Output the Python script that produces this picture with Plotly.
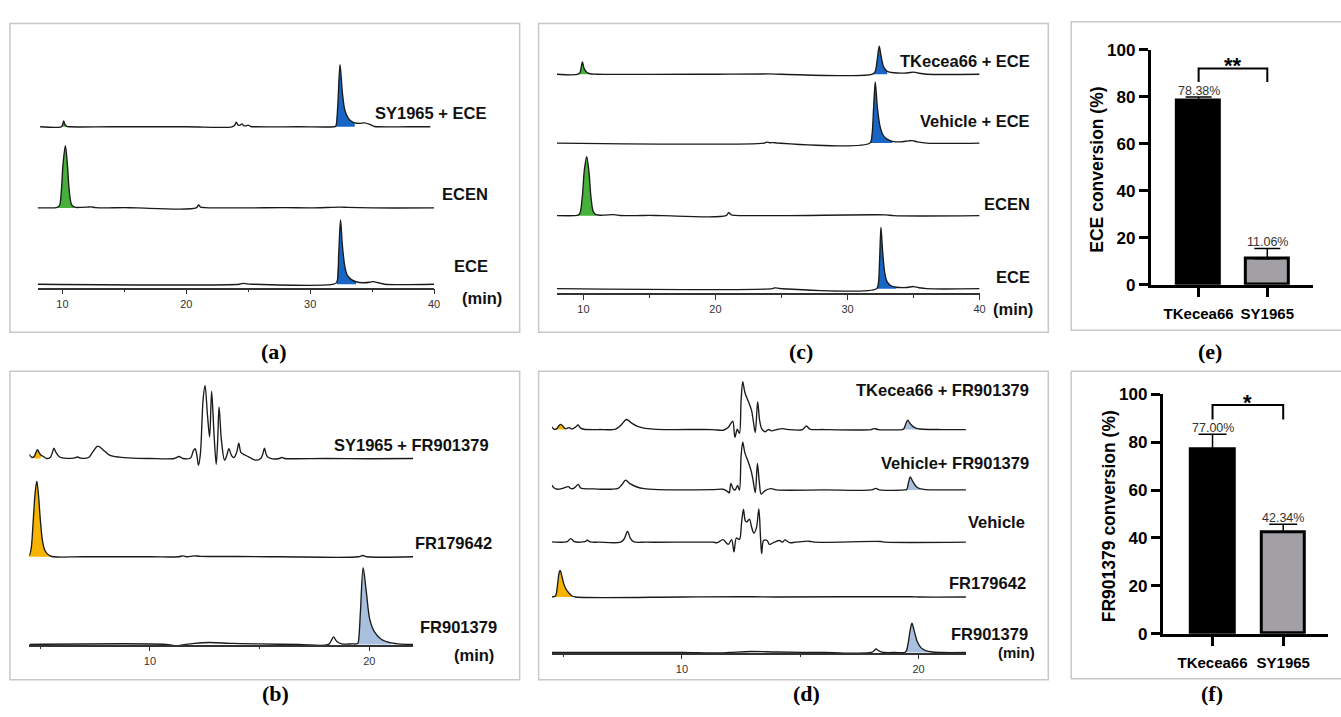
import plotly.graph_objects as go

W, H = 1341, 717

# ---------------- colours ----------------
GREEN = "#46b03a"
BLUE = "#1766c6"
YELLOW = "#f6b400"
LBLUE = "#a8c0de"
LINE = "#1a1a1a"
AX = "#333333"

# ---------------- data: chromatograms (time [min], intensity [a.u.]) ----------------
# panel (a)
a_names = ["SY1965 + ECE", "ECEN", "ECE"]
a1 = [(8.2, 0), (9.9, 0), (10.0, 1.5), (10.1, 6), (10.2, 2.5), (10.35, 0.5), (10.6, 0), (14, 0), (20, 0),
      (23.7, 0), (23.9, 1.5), (24.03, 4.7), (24.2, 1.5), (24.35, 1.8), (24.5, 3), (24.65, 1), (24.8, 1),
      (24.99, 1.7), (25.2, 0.3), (25.6, 0), (29, 0), (31.9, 0), (32.06, 0.5), (32.22, 20), (32.41, 63.7),
      (32.6, 35), (32.8, 17), (33.07, 9), (33.35, 5.5), (33.6, 4), (34.0, 3.5), (34.4, 4), (34.8, 2.5),
      (35.2, 0.3), (35.5, 0), (38, 0), (39.7, 0)]
a2 = [(8, 0), (9.0, 0), (9.5, 0.3), (9.75, 2), (9.9, 15), (10.05, 45), (10.24, 64), (10.4, 45), (10.55, 18),
      (10.75, 3), (11.0, 0.7), (11.5, 0.5), (12.0, 0.8), (12.3, 1), (12.7, 0.3), (13.5, 0), (15, 0.3), (16, 0),
      (20.8, 0), (21.0, 3), (21.15, 0.8), (21.5, 0.3), (25, 0), (28, 0.3), (30, 0), (32.5, 0.8), (33, 0.5),
      (35, 0), (40, 0)]
a3 = [(8, 0), (24.3, 0), (24.6, 0.8), (24.9, 0.3), (25.3, 0), (31.9, 0), (32.15, 2), (32.3, 30), (32.45, 66),
      (32.6, 40), (32.8, 18), (33.0, 9), (33.3, 5), (33.7, 2.5), (34.3, 1.5), (34.8, 2), (35.1, 2.7),
      (35.5, 1.5), (36, 0), (40, 0)]
a_fills = [[(9.9, 10.6, GREEN), (32.06, 33.6, BLUE)], [(9.5, 11.0, GREEN)], [(32.15, 33.7, BLUE)]]

# panel (b)
b_names = ["SY1965 + FR901379", "FR179642", "FR901379"]
b1 = [(4.49, 4.3), (4.62, 1), (4.72, 2), (4.8, 6), (4.87, 9), (4.95, 6), (5.02, 3.5), (5.12, 2.3), (5.28, 0),
      (5.45, 1), (5.55, 6), (5.62, 10.7), (5.72, 6), (5.88, 1.5), (6.1, 0.3), (6.5, 0.3), (6.7, 1.5),
      (6.85, 0.3), (7.2, 1), (7.4, 7), (7.62, 12.7), (7.85, 9), (8.15, 3.5), (8.6, 1.3), (9.2, 0.3), (10.0, 0),
      (11.1, 0), (11.33, 2), (11.5, 0), (11.85, 0.5), (11.98, 8), (12.06, 10), (12.14, 3), (12.21, -7),
      (12.3, 5), (12.42, 60), (12.51, 75), (12.62, 45), (12.72, 22), (12.81, 69), (12.92, 25), (13.02, -6),
      (13.09, 20), (13.15, 53), (13.26, 18), (13.4, -1.7), (13.5, 3), (13.6, 10), (13.72, 3), (13.83, 1),
      (13.95, 6), (14.05, 15.7), (14.15, 6), (14.35, 3.3), (14.55, 1), (14.8, -1.7), (15.05, 0), (15.15, 5),
      (15.22, 10.7), (15.32, 3), (15.5, 0), (15.9, 0), (16.0, 1), (16.15, 0), (18, 0), (20, -0.3), (22, 0)]
b2 = [(4.49, 0.5), (4.58, 8), (4.67, 35), (4.76, 65), (4.84, 77.7), (4.92, 62), (5.0, 38), (5.1, 16), (5.2, 7),
      (5.32, 3), (5.45, 1), (5.6, 0), (7, 0), (10, 0), (11.3, 0), (11.5, 1), (11.7, 0), (12, 1), (12.3, 0.5),
      (14, 0.3), (16, 0), (19.5, 0), (19.7, 1.3), (19.9, 0), (22, 0)]
b3 = [(4.49, 0), (10.73, 0), (11.19, -1.5), (11.64, 0), (12.02, 1), (12.7, 2), (13.76, 1), (14.97, 0.5),
      (16.78, 0), (18.14, 0), (18.29, 5), (18.37, 7.7), (18.52, 3), (18.75, 0.5), (19.2, 0.5), (19.47, 1),
      (19.52, 6), (19.6, 35), (19.72, 78.7), (19.86, 55), (20.03, 25), (20.26, 12), (20.56, 5), (21.0, 1.5),
      (21.47, 0.3), (22, 0)]
b_fills = [[(4.72, 5.02, YELLOW)], [(4.49, 5.6, YELLOW)], [(19.47, 21.0, LBLUE)]]

# panel (c)
c_names = ["TKecea66 + ECE", "Vehicle + ECE", "ECEN", "ECE"]
c1 = [(8, 0), (9.6, 0), (9.75, 2), (9.92, 12.7), (10.05, 6), (10.25, 2), (10.5, 0.5), (11, 0), (20, 0),
      (24, 0.3), (25, 0), (31.9, 0), (32.1, 3), (32.25, 15), (32.4, 28.7), (32.55, 18), (32.75, 7), (33, 3),
      (33.5, 1.5), (34.5, 1.3), (35, 2.2), (35.4, 1), (36, 0), (40, 0)]
c2 = [(8, 0), (23.7, 0), (23.9, 1), (24.1, 0.3), (24.4, 0.5), (24.7, 0), (31.7, 0), (31.85, 8), (31.97, 35),
      (32.1, 62.7), (32.25, 38), (32.45, 18), (32.7, 8), (33.0, 4), (33.4, 1.8), (34.0, 1.2), (34.6, 2.2),
      (34.9, 2.5), (35.3, 1.2), (36, 0), (40, 0)]
c3 = [(8, 0), (9.3, 0), (9.6, 0.5), (9.75, 3), (9.92, 20), (10.08, 48), (10.25, 60.7), (10.42, 45), (10.58, 18),
      (10.75, 4), (10.95, 1), (11.5, 0.5), (12.3, 1), (12.8, 0.2), (14, 0), (15, 0.3), (16, 0), (20.8, 0),
      (21.0, 3), (21.2, 0.8), (21.5, 0.3), (25, 0), (32.9, 0.8), (33.5, 0), (40, 0)]
c4 = [(8, 0), (24.3, 0), (24.5, 0.8), (24.8, 0.3), (25, 0), (32.2, 0), (32.33, 5), (32.43, 30), (32.53, 63),
      (32.65, 40), (32.82, 16), (33.0, 7), (33.3, 3), (33.7, 1.5), (34.5, 1.2), (35.0, 2.2), (35.4, 1), (36, 0),
      (40, 0)]
c_fills = [[(9.6, 10.5, GREEN), (31.9, 33.0, BLUE)], [(31.7, 33.4, BLUE)], [(9.6, 10.95, GREEN)],
           [(32.2, 33.7, BLUE)]]

# panel (d)
d_names = ["TKecea66 + FR901379", "Vehicle+ FR901379", "Vehicle", "FR179642", "FR901379"]
d1 = [(4.5, 2.7), (4.6, 0.3), (4.71, 1), (4.8, 4), (4.88, 5.3), (4.97, 3.5), (5.06, 1), (5.16, 1.5), (5.23, 2),
      (5.35, 0.5), (5.5, 2.5), (5.61, 4.7), (5.72, 1.5), (5.86, 0.3), (6.5, 0), (7.2, 0.5), (7.4, 4),
      (7.66, 10.3), (7.85, 7), (8.1, 3.5), (8.39, 1.5), (8.8, 0.5), (9.5, 0), (11.3, 0), (11.75, -0.7),
      (11.95, 2), (12.06, 6), (12.15, 8.7), (12.24, -8), (12.34, 0.3), (12.43, -4), (12.5, 30), (12.57, 49.3),
      (12.66, 38), (12.81, 28.7), (12.94, 20), (13.02, 8), (13.1, -3), (13.2, 28.7), (13.28, 10), (13.37, 1),
      (13.51, -2.3), (13.65, 0), (13.79, -1.3), (14.0, 0), (14.25, 1), (14.5, 0), (15.1, 0), (15.26, 3.7),
      (15.4, 0.5), (16, 0), (18, 0), (18.13, 1), (18.3, 0), (19.3, 0), (19.37, 0.5), (19.45, 5), (19.54, 9.7),
      (19.65, 6), (19.8, 2.5), (19.95, 1), (20.2, 0.3), (21, 0), (22.02, 0)]
d2 = [(4.5, 5), (4.6, 2), (4.75, 0.7), (4.95, 1.5), (5.2, 3.3), (5.3, 1.5), (5.4, 1.3), (5.5, 3), (5.61, 5.7),
      (5.72, 2), (5.86, 1.3), (6.3, 1), (6.6, 0.7), (7.0, 0.7), (7.3, 1.5), (7.45, 5), (7.62, 10), (7.8, 6.5),
      (8.1, 3), (8.4, 1.3), (9, 0.3), (10, 0), (11.3, 0.3), (11.74, 0.7), (11.95, -2), (12.0, -3.3),
      (12.07, 6.7), (12.17, 1), (12.25, 0), (12.35, 4.7), (12.43, -0.3), (12.5, 35), (12.57, 49), (12.66, 38),
      (12.8, 29), (12.92, 20), (13.0, 10.7), (13.1, -2.7), (13.19, 27.3), (13.27, 8), (13.35, -4.3),
      (13.5, -1), (13.75, 1.3), (14.0, 0), (16, 0), (18, 0), (18.2, 1.5), (18.35, 0), (19.4, 0), (19.5, 0.5),
      (19.58, 8), (19.65, 13.3), (19.75, 9), (19.9, 3.5), (20.05, 1.3), (20.3, 0.3), (21, 0), (22.02, 0)]
d3 = [(4.5, 0.3), (5.0, 0), (5.15, 0.5), (5.3, 3.7), (5.45, 0.5), (5.7, 0), (5.9, 0.5), (6.0, 2), (6.12, 0.3),
      (6.5, 0), (7.4, 0), (7.55, 3), (7.7, 11), (7.82, 4), (7.95, 0.5), (8.5, 0), (11.3, 0), (11.5, -0.5),
      (11.74, 2.7), (11.85, 0), (11.96, -2.3), (12.1, 2.7), (12.2, -10), (12.3, 4.3), (12.43, 2.7), (12.52, 20),
      (12.6, 33.7), (12.68, 22), (12.75, 21), (12.85, 23.7), (12.95, 15), (13.04, 9.3), (13.15, 15),
      (13.25, 34.3), (13.32, 5), (13.37, -11.7), (13.45, 1.7), (13.6, 1.7), (13.7, -2.3), (13.9, 0),
      (14.13, 1.7), (14.25, 0), (14.35, 2.3), (14.55, -0.5), (14.8, 0), (15.37, 1), (15.6, 0), (18.4, 0.7),
      (18.6, 0), (22.02, 0)]
d4 = [(4.5, 0), (4.65, 1), (4.74, 12), (4.8, 24), (4.85, 27.3), (4.92, 22), (5.0, 14), (5.08, 9), (5.16, 6),
      (5.26, 3), (5.36, 1), (5.5, 0), (10, 0), (12.5, 0.3), (14, 0), (19.7, 0.3), (20, 0), (22.02, 0)]
d5 = [(4.5, 0), (10, 0), (11.3, -0.5), (12, 0), (12.9, 1), (14, 0.5), (16, 0), (18.0, 0), (18.13, 2),
      (18.2, 3.7), (18.3, 2), (18.45, 0.3), (19.0, 0), (19.45, 0.5), (19.55, 8), (19.64, 22), (19.72, 30),
      (19.82, 22), (19.95, 11), (20.1, 5), (20.3, 2), (20.6, 0.5), (21, 0), (22.02, 0)]
d_fills = [[(4.71, 5.06, YELLOW), (19.37, 19.95, LBLUE)], [(19.5, 20.05, LBLUE)], [], [(4.5, 5.5, YELLOW)],
           [(19.45, 20.6, LBLUE)]]

# ---------------- data: bar charts ----------------
bar_categories = ["TKecea66", "SY1965"]
e_values = [78.38, 11.06]
e_errors = [1.5, 4.4]
e_sig = "**"
f_values = [77.00, 42.34]
f_errors = [6.3, 3.4]
f_sig = "*"
y_ticks = [0, 20, 40, 60, 80, 100]

# ---------------- helpers ----------------
def px2x(px):
    return px / W


def px2y(py):
    return 1 - py / H


fig = go.Figure()
fill_traces = []
line_traces = []


def chrom(pairs, base_px, xa, fills):
    t = [p[0] for p in pairs]
    h = [p[1] for p in pairs]
    y0 = H - base_px
    y = [y0 + v for v in h]
    for (t0, t1, col) in fills:
        idx = [i for i, tt in enumerate(t) if t0 <= tt <= t1]
        fill_traces.append(go.Scatter(x=[t0, t1], y=[y0, y0], xaxis=xa, yaxis="y", mode="lines",
                                      line=dict(width=0, color=col), hoverinfo="skip", showlegend=False))
        fill_traces.append(go.Scatter(x=[t[i] for i in idx], y=[y[i] for i in idx], xaxis=xa, yaxis="y",
                                      mode="lines", line=dict(width=0, color=col, shape="spline", smoothing=0.9),
                                      fill="tonexty", fillcolor=col, hoverinfo="skip", showlegend=False))
    line_traces.append(go.Scatter(x=t, y=y, xaxis=xa, yaxis="y", mode="lines",
                                  line=dict(color=LINE, width=1.35, shape="spline", smoothing=0.9),
                                  hoverinfo="skip", showlegend=False))


# panel (a)
for pairs, base, fl in zip([a1, a2, a3], [121, 204.3, 282.7], a_fills):
    chrom(pairs, base, "x", fl)
# panel (b)
for pairs, base, fl in zip([b1, b2, b3], [461.7, 562.7, 652.7], b_fills):
    chrom(pairs, base, "x2", fl)
# panel (c)
for pairs, base, fl in zip([c1, c2, c3, c4], [67, 137.7, 212.3, 287.3], c_fills):
    chrom(pairs, base, "x3", fl)
# panel (d)
for pairs, base, fl in zip([d1, d2, d3, d4, d5], [432, 494, 547.7, 604, 661], d_fills):
    chrom(pairs, base, "x4", fl)

for tr in fill_traces + line_traces:
    fig.add_trace(tr)

# bar charts
fig.add_trace(go.Bar(x=[0, 1], y=e_values, width=0.63, xaxis="x5", yaxis="y2",
                     marker=dict(color=["#000000", "#a29fa5"], line=dict(color="#000000", width=3)),
                     error_y=dict(type="data", symmetric=False, array=e_errors, arrayminus=[0, 0],
                                  color="#000000", thickness=1.5, width=13),
                     hoverinfo="skip", showlegend=False))
fig.add_trace(go.Bar(x=[0, 1], y=f_values, width=0.62, xaxis="x6", yaxis="y3",
                     marker=dict(color=["#000000", "#a29fa5"], line=dict(color="#000000", width=3)),
                     error_y=dict(type="data", symmetric=False, array=f_errors, arrayminus=[0, 0],
                                  color="#000000", thickness=1.5, width=14),
                     hoverinfo="skip", showlegend=False))

# ---------------- axes ----------------
FONT = "Liberation Sans"


def chrom_axis(x0, x1, r, ypos):
    return dict(domain=[px2x(x0), px2x(x1)], range=r, anchor="free", position=px2y(ypos),
                showgrid=False, zeroline=False, showline=True, linecolor=AX, linewidth=1.5,
                ticks="outside", ticklen=5, tickwidth=1.2, tickcolor=AX, tick0=0, dtick=10,
                minor=dict(ticks="outside", ticklen=3, tickwidth=1, tickcolor=AX, dtick=5, tick0=0,
                           showgrid=False),
                tickfont=dict(family=FONT, size=11, color="#333"), fixedrange=True)


def bar_xaxis(x0, x1, r):
    return dict(domain=[px2x(x0), px2x(x1)], range=r, showgrid=False, zeroline=False, showline=True,
                linecolor="#000", linewidth=3, ticks="outside", ticklen=9, tickwidth=3, tickcolor="#000",
                tickvals=[0, 1], ticktext=bar_categories, ticklabelstandoff=4, tickangle=0,
                tickfont=dict(family=FONT, size=15, color="#000", weight="bold"), fixedrange=True)


def bar_yaxis(top, bottom, xa):
    return dict(domain=[px2y(bottom), px2y(top)], range=[0, 100], anchor=xa, showgrid=False, zeroline=False,
                showline=True, linecolor="#000", linewidth=3, ticks="outside", ticklen=9, tickwidth=3,
                tickcolor="#000", tickvals=y_ticks,
                tickfont=dict(family=FONT, size=17, color="#000", weight="bold"), fixedrange=True)


fig.update_layout(
    width=W, height=H, margin=dict(l=0, r=0, t=0, b=0),
    paper_bgcolor="white", plot_bgcolor="rgba(0,0,0,0)", hovermode=False, showlegend=False,
    xaxis=chrom_axis(37.8, 436, [8, 40], 287.3),
    xaxis2=chrom_axis(29.5, 415, [4.5, 22], 654),
    xaxis3=chrom_axis(559.5, 984, [8, 40], 292.7),
    xaxis4=chrom_axis(554.3, 970.2, [4.5, 22], 662.3),
    yaxis=dict(domain=[0, 1], range=[0, H], visible=False, anchor="free", position=0, fixedrange=True),
    xaxis5=dict(bar_xaxis(1156, 1319, [-0.696, 1.667]), anchor="y2"),
    yaxis2=bar_yaxis(41.7, 283.3, "x5"),
    xaxis6=dict(bar_xaxis(1168, 1334, [-0.704, 1.634]), anchor="y3"),
    yaxis3=bar_yaxis(395.7, 641.7, "x6"),
    bargap=0,
)

# ---------------- panel frames ----------------
shapes = []
for (x0, y0, x1, y1) in [(10, 15, 522, 332), (10, 372, 522, 689), (541, 15, 1053, 332), (541, 372, 1053, 689),
                         (1076, 13, 1350, 330), (1076, 372, 1350, 688)]:
    shapes.append(dict(type="rect", xref="paper", yref="paper", x0=px2x(x0), x1=px2x(x1),
                       y0=px2y(y1), y1=px2y(y0), line=dict(color="#c8c8c8", width=1.5), layer="below"))

# significance brackets
shapes.append(dict(type="path", xref="x5", yref="y2", path="M0,86.2 L0,92 L1,92 L1,86.2",
                   line=dict(color="#000", width=2)))
shapes.append(dict(type="path", xref="x6", yref="y3", path="M0,89.4 L0,95.5 L1,95.5 L1,89.4",
                   line=dict(color="#000", width=2)))
fig.update_layout(shapes=shapes)

# ---------------- annotations ----------------
ann = []


def label(text, right_px, y_px, size=16.5, bold=True):
    ann.append(dict(text=text, xref="paper", yref="paper", x=px2x(right_px), y=px2y(y_px),
                    xanchor="right", yanchor="middle", showarrow=False,
                    font=dict(family=FONT, size=size, color="#111", weight="bold" if bold else "normal")))


for name, r, y in zip(a_names, [490, 492, 492], [107, 190, 264]):
    label(name, r, y)
label("(min)", 506, 297)
for name, r, y in zip(b_names, [493, 496, 501], [447.5, 549, 635]):
    label(name, r, y)
label("(min)", 498, 664)
for name, r, y in zip(c_names, [1037, 1037, 1037, 1037], [53, 115, 200, 275]):
    label(name, r, y)
label("(min)", 1040, 308)
for name, r, y in zip(d_names, [1036, 1036, 1032, 1033, 1035], [391.7, 466, 526.7, 589.3, 642]):
    label(name, r, y)
label("(min)", 1042, 661, size=15)

# panel letters
for txt, cx, cy in [("(a)", 275, 352), ("(c)", 805, 352), ("(e)", 1215, 352),
                    ("(b)", 277, 703), ("(d)", 810, 703), ("(f)", 1217, 703)]:
    ann.append(dict(text=txt, xref="paper", yref="paper", x=px2x(cx), y=px2y(cy), xanchor="center",
                    yanchor="middle", showarrow=False,
                    font=dict(family="Liberation Serif", size=22, color="#000", weight="bold")))

# bar value labels
for xa, ya, vals, errs in [("x5", "y2", e_values, e_errors), ("x6", "y3", f_values, f_errors)]:
    for i, (v, e) in enumerate(zip(vals, errs)):
        ann.append(dict(text=f"{v:.2f}%", xref=xa, yref=ya, x=i, y=v + e, xanchor="center", yanchor="middle",
                        yshift=6, showarrow=False, font=dict(family=FONT, size=12.5, color="#333")))

# significance stars
ann.append(dict(text=e_sig, xref="x5", yref="paper", x=0.5, y=px2y(58), xanchor="center", yanchor="middle",
                showarrow=False, font=dict(family=FONT, size=22, color="#000", weight="bold")))
ann.append(dict(text=f_sig, xref="x6", yref="paper", x=0.5, y=px2y(404.7), xanchor="center", yanchor="middle",
                showarrow=False, font=dict(family=FONT, size=22, color="#000", weight="bold")))

# y-axis titles of bar charts
ann.append(dict(text="ECE conversion (%)", xref="paper", yref="paper", x=px2x(1102), y=px2y(165),
                textangle=-90, xanchor="center", yanchor="middle", showarrow=False,
                font=dict(family=FONT, size=17.5, color="#000", weight="bold")))
ann.append(dict(text="FR901379 conversion (%)", xref="paper", yref="paper", x=px2x(1114), y=px2y(521),
                textangle=-90, xanchor="center", yanchor="middle", showarrow=False,
                font=dict(family=FONT, size=17.5, color="#000", weight="bold")))

fig.update_layout(annotations=ann)

fig.write_html("out.html", config={"displayModeBar": False},
               post_script="document.body.style.margin='0px';document.body.style.padding='0px';")
